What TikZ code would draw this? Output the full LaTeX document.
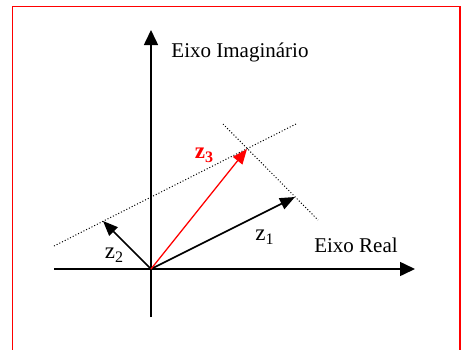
\documentclass[tikz,border=0pt]{standalone}
\usepackage{fontspec}
\setmainfont{Liberation Serif}
\usetikzlibrary{arrows.meta, positioning}
\definecolor{vermelho}{HTML}{FF0000}
% indice dos vetores
\newcommand{\zsub}[1]{\raisebox{-4.5pt}{\fontsize{16}{18}\selectfont #1}}
\tikzset{
  % eixos do plano complexo
  eixo/.style={line width=1.6pt, -{Triangle[length=15pt, width=14pt]}},
  % vetores z1, z2
  vetor/.style={line width=1.6pt, -{Triangle[length=15pt, width=12pt]}},
  % soma z3
  soma/.style={line width=1.3pt, vermelho, -{Triangle[length=15pt, width=12pt]}},
  % paralelas pontilhadas
  paralela/.style={line width=1pt, dotted},
  % rotulos
  lbl/.style={font=\fontsize{21}{25}\selectfont, inner sep=0pt},
  zlbl/.style={font=\fontsize{23}{27}\selectfont, inner sep=0pt},
  zsoma/.style={font=\fontsize{23}{27}\selectfont\bfseries, text=vermelho, inner sep=0pt},
}
\begin{document}
\begin{tikzpicture}[x=1pt, y=-1pt]
  \useasboundingbox (0,0) rectangle (461,349);
  % moldura
  \draw[vermelho, line width=1.5pt] (12.5,360) -- (12.5,6.5) -- (460,6.5) -- (460,360);
  % pontos
  \coordinate (O) at (151,269);
  \coordinate (xmin) at (54,269);
  \coordinate (xmax) at (415,269);
  \coordinate (ymin) at (151,317);
  \coordinate (ymax) at (151,30);
  \coordinate (z1) at (295,197);
  \coordinate (z2) at (103,221);
  \coordinate (z3) at (247,149);
  \coordinate (pa) at (54,246);
  \coordinate (pb) at (296,124);
  \coordinate (qa) at (223,124);
  \coordinate (qb) at (318,220);
  % eixos
  \draw[eixo] (xmin) -- (xmax);
  \draw[eixo] (ymin) -- (ymax);
  \node[lbl] (im) at (240,52) {Eixo Imaginário};
  \node[lbl] (re) at (356,245) {Eixo Real};
  % paralelas
  \draw[paralela] (pa) -- (pb);
  \draw[paralela] (qa) -- (qb);
  % vetores
  \draw[vetor] (O) -- (z1);
  \draw[vetor] (O) -- (z2);
  \draw[soma] (O) -- (z3);
  \node[zlbl] (lz1) at (264.5,237) {z\zsub{1}};
  \node[zlbl] (lz2) at (114,255) {z\zsub{2}};
  \node[zsoma] (lz3) at (204,155.5) {z\zsub{3}};
\end{tikzpicture}
\end{document}
